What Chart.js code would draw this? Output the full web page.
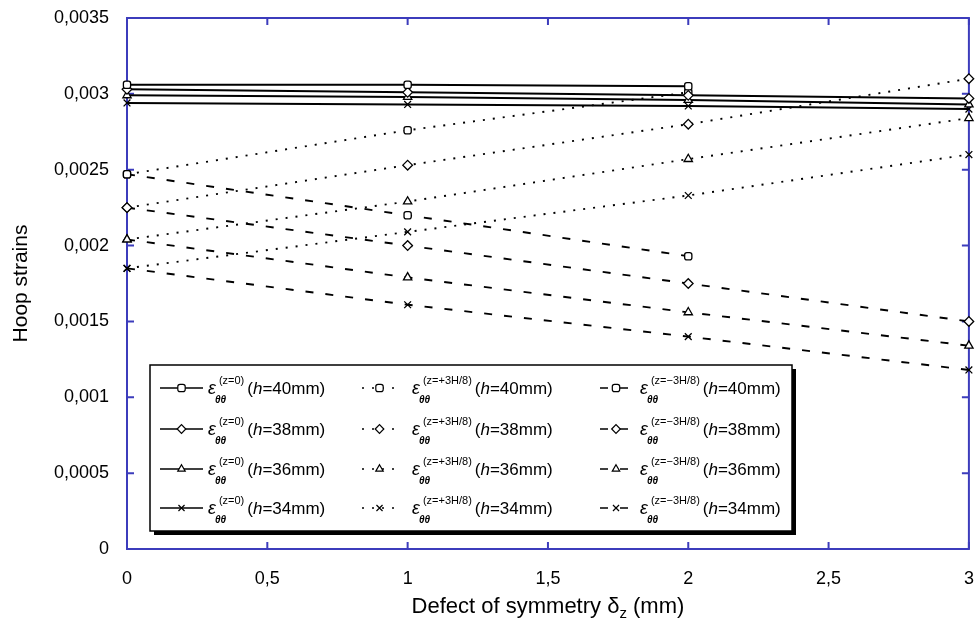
<!DOCTYPE html>
<html>
<head>
<meta charset="utf-8">
<script src="https://cdn.jsdelivr.net/npm/chart.js@4.4.0/dist/chart.umd.min.js"></script>
<style>
  html, body { margin: 0; padding: 0; background: #fff; }
  #wrap { width: 975px; height: 633px; }
</style>
</head>
<body>
<div id="wrap"><canvas id="hoopChart"></canvas></div>
<script>
// defect of symmetry (mm)
const defects = [0, 1, 2, 3];
const hLabels = ['40', '38', '36', '34'];
const zLabels = ['(z=0)', '(z=+3H/8)', '(z=\u22123H/8)'];

// hoop strains at z = 0
const midH40 = [0.00306, 0.00306, 0.00305];
const midH38 = [0.00303, 0.00301, 0.00299, 0.00297];
const midH36 = [0.00299, 0.00298, 0.00296, 0.00293];
const midH34 = [0.00294, 0.00293, 0.00292, 0.00290];

// hoop strains at z = +3H/8
const upperH40 = [0.00247, 0.00276, 0.00301];
const upperH38 = [0.00225, 0.00253, 0.00280, 0.00310];
const upperH36 = [0.00204, 0.00229, 0.00257, 0.00284];
const upperH34 = [0.00185, 0.00209, 0.00233, 0.00260];

// hoop strains at z = -3H/8
const lowerH40 = [0.00247, 0.00220, 0.00193];
const lowerH38 = [0.00225, 0.00200, 0.00175, 0.00150];
const lowerH36 = [0.00204, 0.00179, 0.00156, 0.00134];
const lowerH34 = [0.00185, 0.00161, 0.00140, 0.00118];

const yTicks = [0, 0.0005, 0.001, 0.0015, 0.002, 0.0025, 0.003, 0.0035];
const yTickLabels = ['0', '0,0005', '0,001', '0,0015', '0,002', '0,0025', '0,003', '0,0035'];
const xTicks = [0, 0.5, 1, 1.5, 2, 2.5, 3];
const xTickLabels = ['0', '0,5', '1', '1,5', '2', '2,5', '3'];

const FONT = 'Liberation Sans, Arial, sans-serif';
const frameColor = '#3c3cbc';
const markers = ['rectRounded', 'rectRot', 'triangle', 'crossRot'];
const dashes = [[], [2, 8], [8, 12]];

const groups = [
  [midH40, midH38, midH36, midH34],
  [upperH40, upperH38, upperH36, upperH34],
  [lowerH40, lowerH38, lowerH36, lowerH34]
];

const datasets = [];
groups.forEach((series, g) => {
  series.forEach((vals, k) => {
    datasets.push({
      label: zLabels[g] + ' h=' + hLabels[k],
      group: g,
      row: k,
      data: vals.map((v, i) => ({ x: defects[i], y: v })),
      showLine: true,
      borderColor: '#000',
      borderWidth: g === 0 ? 2 : 1.9,
      borderDash: dashes[g],
      pointStyle: markers[k],
      pointRadius: k === 0 ? 4.2 : 4.8,
      pointBorderWidth: 1.3,
      pointBackgroundColor: '#fff',
      pointBorderColor: '#000',
      clip: false
    });
  });
});

// box round the plot area, with inward ticks on all four sides
const framePlugin = {
  id: 'frame',
  beforeDatasetsDraw(chart) {
    const { ctx, chartArea: a, scales: { x, y } } = chart;
    const len = 7;
    ctx.save();
    ctx.strokeStyle = frameColor;
    ctx.lineWidth = 2;
    ctx.strokeRect(a.left, a.top, a.right - a.left, a.bottom - a.top);
    ctx.beginPath();
    yTicks.forEach(v => {
      const py = y.getPixelForValue(v);
      ctx.moveTo(a.left, py); ctx.lineTo(a.left + len, py);
      ctx.moveTo(a.right, py); ctx.lineTo(a.right - len, py);
    });
    xTicks.forEach(v => {
      const px = x.getPixelForValue(v);
      ctx.moveTo(px, a.bottom); ctx.lineTo(px, a.bottom - len);
      ctx.moveTo(px, a.top); ctx.lineTo(px, a.top + len);
    });
    ctx.stroke();
    ctx.restore();
  }
};

// axis titles (the x title needs a subscript)
const titlePlugin = {
  id: 'titles',
  afterDraw(chart) {
    const { ctx, chartArea: a } = chart;
    ctx.save();
    ctx.fillStyle = '#000';
    ctx.font = '21px ' + FONT;
    ctx.textBaseline = 'middle';
    ctx.textAlign = 'center';
    ctx.translate(21, (a.top + a.bottom) / 2);
    ctx.rotate(-Math.PI / 2);
    ctx.fillText('Hoop strains', 0, 0);
    ctx.restore();

    ctx.save();
    ctx.fillStyle = '#000';
    ctx.textBaseline = 'alphabetic';
    const big = '22px ' + FONT, small = '15px ' + FONT;
    const p1 = 'Defect of symmetry \u03b4', p2 = 'z', p3 = ' (mm)';
    ctx.font = big; const w1 = ctx.measureText(p1).width, w3 = ctx.measureText(p3).width;
    ctx.font = small; const w2 = ctx.measureText(p2).width;
    let tx = (a.left + a.right) / 2 - (w1 + w2 + w3) / 2;
    const ty = 613;
    ctx.font = big; ctx.fillText(p1, tx, ty); tx += w1;
    ctx.font = small; ctx.fillText(p2, tx, ty + 5); tx += w2;
    ctx.font = big; ctx.fillText(p3, tx, ty);
    ctx.restore();
  }
};

// legend box: 3 columns (z position) x 4 rows (h)
const legendPlugin = {
  id: 'strainLegend',
  afterDraw(chart) {
    const ctx = chart.ctx;
    const box = { l: 150, t: 365, r: 792, b: 531 };
    const cols = [
      { x0: 160, x1: 203, tx: 208 },
      { x0: 362, x1: 397, tx: 412 },
      { x0: 600, x1: 632, tx: 640 }
    ];
    const rows = [388, 429, 469, 508];
    ctx.save();
    ctx.fillStyle = '#000';
    ctx.fillRect(box.l + 4, box.t + 4, box.r - box.l, box.b - box.t);
    ctx.fillStyle = '#fff';
    ctx.fillRect(box.l, box.t, box.r - box.l, box.b - box.t);
    ctx.strokeStyle = '#000';
    ctx.lineWidth = 1.5;
    ctx.strokeRect(box.l, box.t, box.r - box.l, box.b - box.t);

    chart.data.datasets.forEach(ds => {
      const c = cols[ds.group], y = rows[ds.row];
      ctx.save();
      ctx.strokeStyle = '#000';
      ctx.lineWidth = 1.7;
      ctx.setLineDash(ds.borderDash);
      ctx.beginPath();
      ctx.moveTo(c.x0, y); ctx.lineTo(c.x1, y);
      ctx.stroke();
      ctx.setLineDash([]);
      ctx.fillStyle = '#fff';
      ctx.lineWidth = 1.2;
      Chart.helpers.drawPoint(ctx, { pointStyle: ds.pointStyle, radius: 4.3, rotation: 0, borderWidth: 1.2 },
        (c.x0 + c.x1) / 2, y);
      ctx.restore();

      ctx.fillStyle = '#000';
      ctx.textBaseline = 'alphabetic';
      let tx = c.tx;
      ctx.font = 'italic 18px ' + FONT;
      ctx.fillText('\u03b5', tx, y + 6);
      const we = ctx.measureText('\u03b5').width;
      ctx.font = 'italic bold 10px ' + FONT;
      ctx.fillText('\u03b8\u03b8', tx + we - 1, y + 15);
      ctx.font = '11px ' + FONT;
      ctx.fillText(zLabels[ds.group], tx + we + 3, y - 4);
      tx += we + 3 + ctx.measureText(zLabels[ds.group]).width + 3;
      ctx.font = '17px ' + FONT;
      ctx.fillText('(', tx, y + 6); tx += ctx.measureText('(').width;
      ctx.font = 'italic 17px ' + FONT;
      ctx.fillText('h', tx, y + 6); tx += ctx.measureText('h').width;
      ctx.font = '17px ' + FONT;
      ctx.fillText('=' + hLabels[ds.row] + 'mm)', tx, y + 6);
    });
    ctx.restore();
  }
};

new Chart(document.getElementById('hoopChart'), {
  type: 'scatter',
  data: { datasets: datasets },
  options: {
    responsive: true,
    maintainAspectRatio: false,
    animation: false,
    layout: { padding: { top: 18, right: 6, left: 0, bottom: 0 } },
    plugins: { legend: { display: false }, tooltip: { enabled: false } },
    scales: {
      x: {
        type: 'linear', min: 0, max: 3,
        afterBuildTicks: s => { s.ticks = xTicks.map(v => ({ value: v })); },
        afterFit: s => { s.height = 84; s.paddingLeft = 0; s.paddingRight = 0; },
        grid: { display: false, drawTicks: false },
        border: { display: false },
        ticks: {
          padding: 19, color: '#000', font: { family: FONT, size: 18 },
          callback: (v, i) => xTickLabels[i]
        }
      },
      y: {
        type: 'linear', min: 0, max: 0.0035,
        afterBuildTicks: s => { s.ticks = yTicks.map(v => ({ value: v })); },
        afterFit: s => { s.width = 127; s.paddingTop = 0; s.paddingBottom = 0; },
        grid: { display: false, drawTicks: false },
        border: { display: false },
        ticks: {
          padding: 18, color: '#000', font: { family: FONT, size: 18 },
          callback: (v, i) => yTickLabels[i]
        }
      }
    }
  },
  plugins: [framePlugin, titlePlugin, legendPlugin]
});
</script>
</body>
</html>
